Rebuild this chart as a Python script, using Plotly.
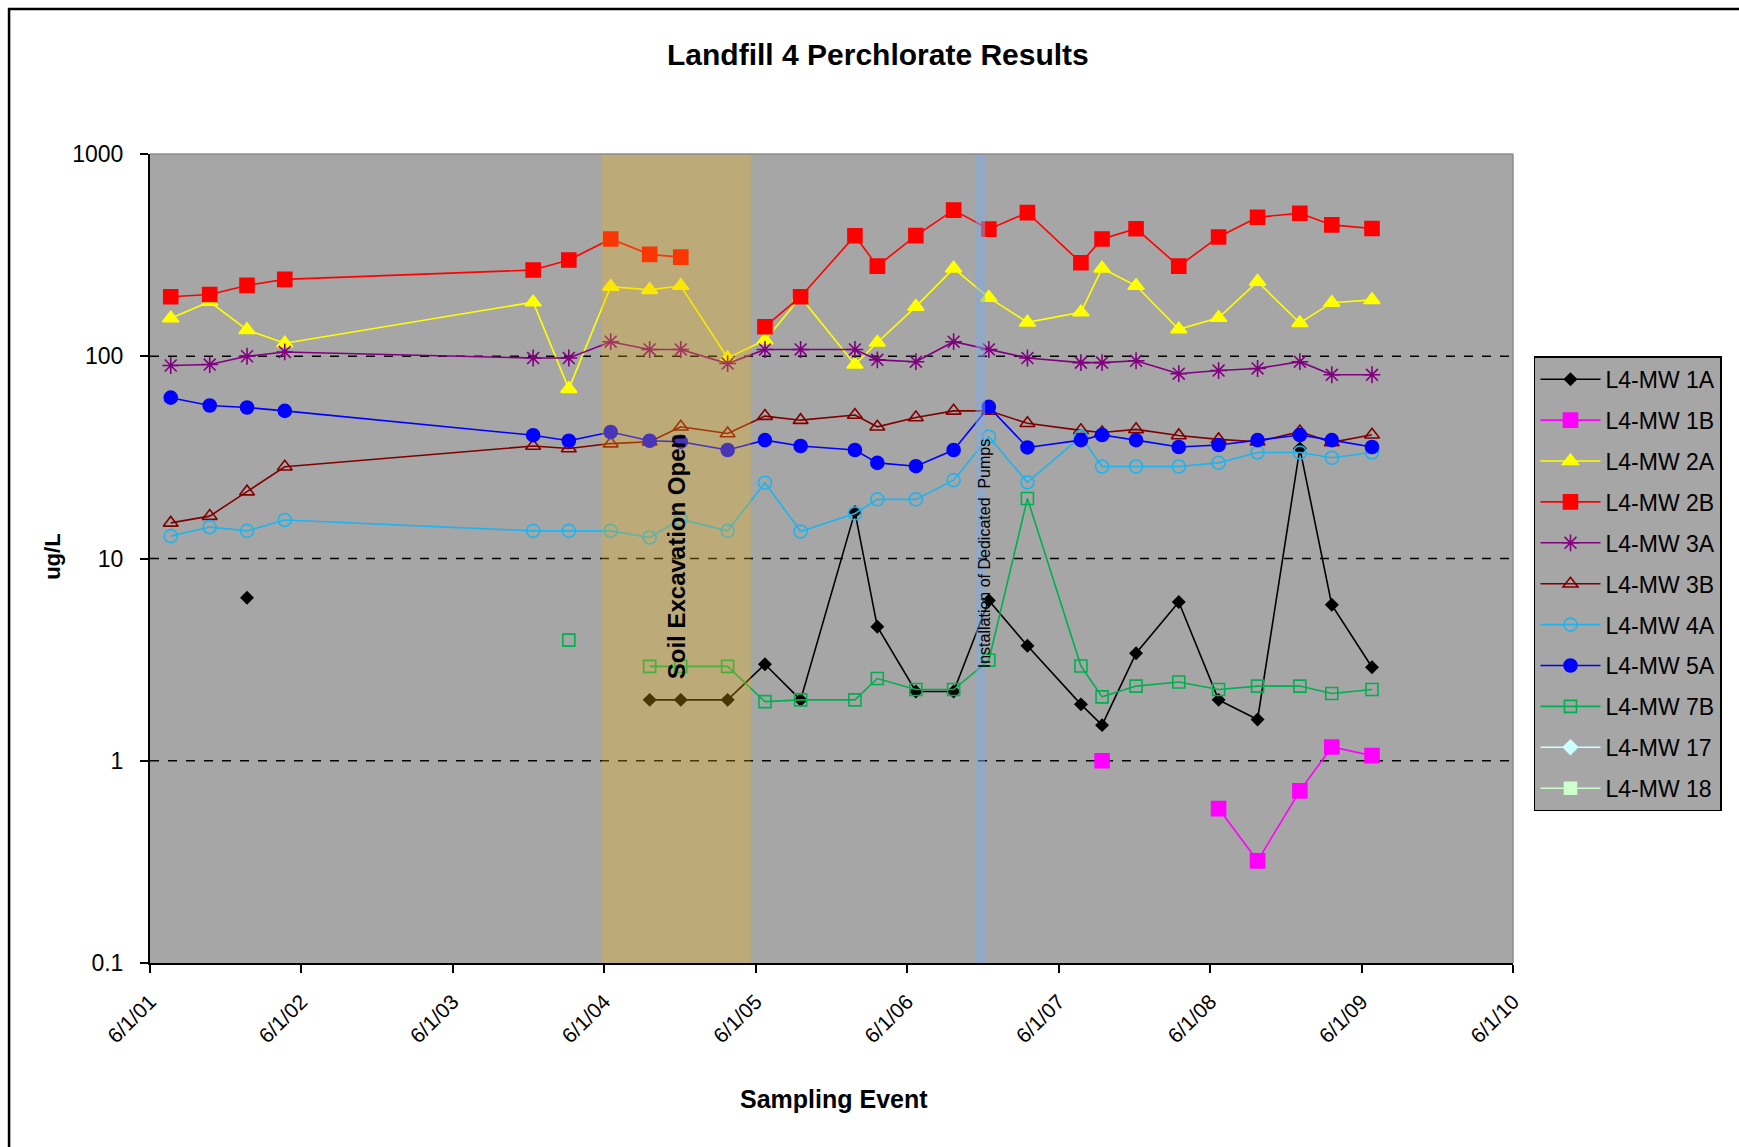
import plotly.graph_objects as go

# Sampling events (dates of each monitoring round)
sample_dates = [
    "2001-07-21", "2001-10-23", "2002-01-21", "2002-04-22", "2003-12-12",
    "2004-03-07", "2004-06-16", "2004-09-18", "2004-12-02", "2005-03-25",
    "2005-06-23", "2005-09-17", "2006-01-26", "2006-03-21", "2006-06-22",
    "2006-09-21", "2006-12-15", "2007-03-18", "2007-07-25", "2007-09-14",
    "2007-12-05", "2008-03-17", "2008-06-21", "2008-09-23", "2009-01-03",
    "2009-03-21", "2009-06-26",
]

# Perchlorate concentrations (ug/L) per well; None = not sampled / not detected
mw1a = [None, None, 6.4, None, None, None, None, 2, 2, 2, 3, 2, 17, 4.6, 2.2,
        2.2, 6.2, 3.7, 1.9, 1.5, 3.4, 6.1, 2, 1.6, 35, 5.9, 2.9]
mw1b = [None] * 19 + [1.0, None, None, 0.58, 0.32, 0.71, 1.17, 1.06]
mw2a = [154, 186, 135, 116, 185, 69, 221, 213, 223, 98, 120, 196, 91, 117, 176,
        272, 195, 147, 165, 272, 223, 136, 155, 234, 146, 184, 190]
mw2b = [197, 202, 224, 240, 267, 299, 380, 319, 309, None, 140, 197, 394, 279,
        395, 528, 425, 513, 290, 380, 427, 279, 389, 487, 509, 446, 428]
mw3a = [90, 91, 100, 105, 98, 98, 118, 108, 108, 92, 108, 108, 108, 96, 94,
        118, 108, 98, 93, 93, 95, 82, 85, 87, 94, 81, 81]
mw3b = [15, 16.2, 21.4, 28.4, 36, 35, 37, 37.8, 44.8, 41.5, 50.6, 48.3, 51.2,
        44.8, 49.8, 53.7, 53.7, 46.6, 43, 42, 43.5, 40.6, 38.8, 37.8, 42.4,
        37.5, 40.9]
mw4a = [12.9, 14.3, 13.7, 15.5, 13.7, 13.7, 13.7, 12.7, 15.6, 13.7, 23.7, 13.6,
        16.7, 19.6, 19.6, 24.4, 40, 23.8, 40, 28.5, 28.5, 28.5, 29.7, 33.4,
        33.4, 31.5, 33.4]
mw5a = [62.4, 57.1, 55.8, 53.7, 40.7, 38.2, 42.2, 38.2, 37.8, 34.4, 38.5, 36,
        34.4, 29.7, 28.6, 34.4, 56.2, 35.4, 38.5, 40.8, 38.5, 35.6, 36.4, 38.5,
        40.8, 38.5, 35.6]
mw7b = [None, None, None, None, None, 3.95, None, 2.93, 2.93, 2.93, 1.96, 2, 2,
        2.55, 2.25, 2.25, 3.14, 19.8, 2.94, 2.07, 2.34, 2.45, 2.25, 2.34, 2.34,
        2.15, 2.25]
mw17 = [None]
mw18 = [None]

# Axis ticks
x_tick_dates = ["2001-06-01", "2002-06-01", "2003-06-01", "2004-06-01",
                "2005-06-01", "2006-06-01", "2007-06-01", "2008-06-01",
                "2009-06-01", "2010-06-01"]
y_tick_vals = [0.1, 1, 10, 100, 1000]
y_tick_text = ["0.1", "1", "10", "100", "1000"]

# Event periods
excavation_period = ("2004-05-25", "2005-05-20")
pump_install_period = ("2006-11-13", "2006-12-06")

FONT = "Arial, Liberation Sans, sans-serif"

series = [
    ("L4-MW 1A", mw1a, "#000000", "diamond", 9),
    ("L4-MW 1B", mw1b, "#FF00FF", "square", 14),
    ("L4-MW 2A", mw2a, "#FFFF00", "triangle-up", 14),
    ("L4-MW 2B", mw2b, "#FF0000", "square", 14),
    ("L4-MW 3A", mw3a, "#800080", "asterisk-open", 14),
    ("L4-MW 3B", mw3b, "#800000", "triangle-up-open", 13),
    ("L4-MW 4A", mw4a, "#1EB4EE", "circle-open", 13),
    ("L4-MW 5A", mw5a, "#0000FF", "circle", 13),
    ("L4-MW 7B", mw7b, "#00B050", "square-open", 12),
    ("L4-MW 17", mw17, "#CCFFFF", "diamond", 11),
    ("L4-MW 18", mw18, "#CCFFCC", "square", 12),
]

fig = go.Figure()
for name, vals, color, symbol, size in series:
    xs = sample_dates if len(vals) == len(sample_dates) else [None]
    fig.add_trace(go.Scatter(
        x=xs, y=vals, name=name, mode="lines+markers",
        legendgroup=name,
        line=dict(color=color, width=1.6),
        marker=dict(symbol=symbol, size=size, color=color,
                    line=dict(color=color, width=1.6)),
        connectgaps=False,
    ))

# Dashed reference lines at each decade
for v in [1, 10, 100]:
    fig.add_hline(y=v, line=dict(color="black", width=1.5, dash="dash"),
                  layer="below")

# Shaded event periods
fig.add_vrect(x0=excavation_period[0], x1=excavation_period[1],
              fillcolor="rgba(239,179,13,0.3)", line_width=0, layer="above")
fig.add_vrect(x0=pump_install_period[0], x1=pump_install_period[1],
              fillcolor="rgba(126,170,226,0.5)", line_width=0, layer="above")

# Light frame on top/right of plot area
fig.add_shape(type="line", xref="paper", yref="paper", x0=0, x1=1, y0=1, y1=1,
              line=dict(color="#8C8C8C", width=1.5))
fig.add_shape(type="line", xref="paper", yref="paper", x0=1, x1=1, y0=0, y1=1,
              line=dict(color="#8C8C8C", width=1.5))

# Outer chart border
fig.add_shape(type="rect", xref="paper", yref="paper",
              x0=-0.1034, x1=1.2, y0=-0.26, y1=1.1792,
              line=dict(color="black", width=2.5), layer="below")

annotations = [
    dict(text="<b>Landfill 4 Perchlorate Results</b>", x=0.534, y=1.1224,
         font=dict(size=30)),
    dict(text="<b>Sampling Event</b>", x=0.5018, y=-0.1681, font=dict(size=25)),
    dict(text="<b>ug/L</b>", x=-0.0712, y=0.502, textangle=-90,
         font=dict(size=22)),
    dict(text="<b>Soil Excavation Open</b>", x=0.3863, y=0.5022, textangle=-90,
         font=dict(size=24)),
    dict(text="Installation of Dedicated  Pumps", x=0.6125, y=0.5063,
         textangle=-90, font=dict(size=16)),
]
for a in annotations:
    fig.add_annotation(xref="paper", yref="paper", showarrow=False,
                       xanchor="center", yanchor="middle",
                       font=dict(family=FONT, color="black", size=a["font"]["size"]),
                       **{k: v for k, v in a.items() if k != "font"})

fig.update_layout(
    width=1739, height=1147,
    margin=dict(l=150, r=226, t=154, b=184),
    paper_bgcolor="white",
    plot_bgcolor="#A6A6A6",
    font=dict(family=FONT, color="black", size=20),
    showlegend=True,
    legend=dict(
        x=1.0154, y=0.750, xanchor="left", yanchor="top",
        bgcolor="#A6A6A6", bordercolor="black", borderwidth=1.5,
        font=dict(family=FONT, size=23, color="black"),
        tracegroupgap=8, traceorder="grouped", itemwidth=60,
    ),
    xaxis=dict(
        type="date", range=["2001-06-01", "2010-06-01"],
        tickvals=x_tick_dates, tickformat="%-m/%-d/%y", tickangle=-45,
        ticks="outside", ticklen=8, tickcolor="black", tickwidth=1.5,
        showline=True, linecolor="black", linewidth=2,
        showgrid=False, zeroline=False, ticklabelstandoff=8,
        tickfont=dict(size=21),
    ),
    yaxis=dict(
        type="log", range=[-1, 3],
        tickvals=y_tick_vals, ticktext=y_tick_text,
        ticks="outside", ticklen=8, tickcolor="black", tickwidth=1.5,
        showline=True, linecolor="black", linewidth=2,
        showgrid=False, zeroline=False, ticklabelstandoff=12,
        tickfont=dict(size=23),
    ),
)

fig.write_html("out.html")
